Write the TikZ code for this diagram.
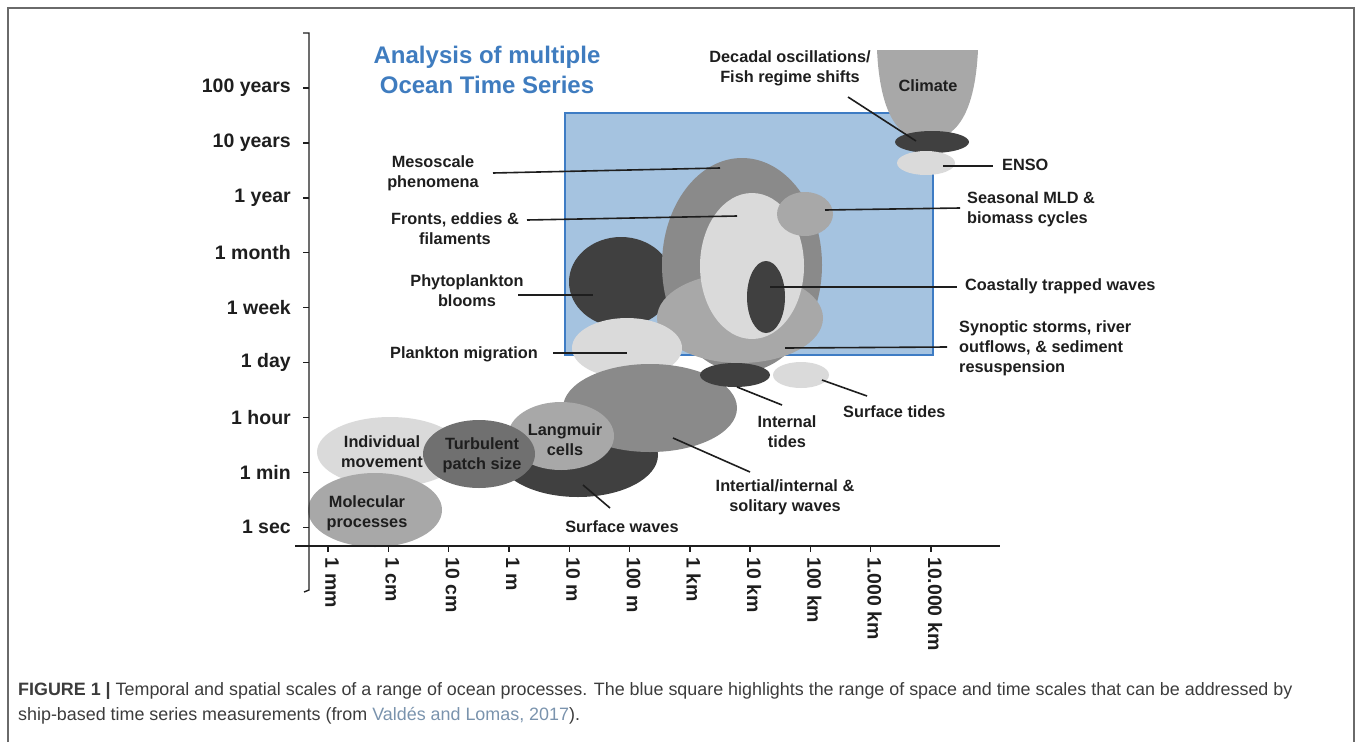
\documentclass[tikz,border=0pt]{standalone}
\usepackage{fontspec}
\setmainfont{Liberation Sans}
\usetikzlibrary{shapes.geometric}
\definecolor{cdark}{HTML}{404040}
\definecolor{cturb}{HTML}{707070}
\definecolor{cmed}{HTML}{8A8A8A}
\definecolor{cmid}{HTML}{A8A8A8}
\definecolor{clight}{HTML}{DADADA}
\definecolor{bfill}{HTML}{A5C3E0}
\definecolor{bline}{HTML}{3E7CC4}
\definecolor{ttl}{HTML}{3F7CBF}
\definecolor{txt}{HTML}{1E1E1E}
\definecolor{capt}{HTML}{3C3C3C}
\definecolor{capl}{HTML}{7A93AD}
\definecolor{frm}{HTML}{6A6A6A}
\tikzset{
  ell/.style={ellipse, inner sep=0pt, draw=none},
  lab/.style={font=\bfseries\fontsize{16.3}{20}\selectfont, text=txt, inner sep=0pt},
  ticklab/.style={font=\bfseries\fontsize{19.5}{21}\selectfont, text=txt, inner sep=0pt},
  conn/.style={draw=txt, line width=1.6pt},
  axis/.style={draw=txt, line width=1.4pt},
}
\begin{document}
\begin{tikzpicture}[x=1pt,y=-1pt]
\useasboundingbox (0,0) rectangle (1357,742);
% frame
\draw[frm, line width=1.4pt] (8,742) -- (8,8) -- (1354,8) -- (1354,742);
% title
\node[font=\bfseries\fontsize{24}{30}\selectfont, text=ttl, align=center] (title) at (487,70) {Analysis of multiple\\Ocean Time Series};
% blue box
\node[draw=bline, line width=2.8pt, fill=bfill, inner sep=0pt, minimum width=368pt, minimum height=242pt] (box) at (749,234) {};
% climate
\fill[cmid] (877,50) .. controls (880,112) and (897,140) .. (927,140) .. controls (957,140) and (975,112) .. (978,50) -- cycle;
\node[lab] (climate) at (928,86) {Climate};
\node[ell, fill=cdark, minimum width=74pt, minimum height=22pt] (e-dec) at (932,142) {};
\node[ell, fill=clight, minimum width=58pt, minimum height=24pt] (e-enso) at (926,163) {};
% mesoscale cluster
\node[ell, fill=cdark, minimum width=104pt, minimum height=90pt] (e-phyto) at (621,282) {};
\node[ell, fill=cmed, minimum width=160pt, minimum height=214pt] (e-meso) at (742,265) {};
\node[ell, fill=cmid, minimum width=166pt, minimum height=90pt] (e-syn) at (740,318) {};
\node[ell, fill=clight, minimum width=104pt, minimum height=146pt] (e-front) at (752,266) {};
\node[ell, fill=cdark, minimum width=38pt, minimum height=72pt] (e-coast) at (766,297) {};
\node[ell, fill=cmid, minimum width=56pt, minimum height=44pt] (e-seas) at (805,214) {};
\node[ell, fill=clight, minimum width=110pt, minimum height=60pt] (e-migr) at (627,348) {};
% small scale
\node[ell, fill=cdark, minimum width=160pt, minimum height=84pt] (e-swav) at (578,455) {};
\node[ell, fill=cmed, minimum width=174pt, minimum height=88pt] (e-inert) at (650,408) {};
\node[ell, fill=cdark, minimum width=70pt, minimum height=24pt] (e-itide) at (735,375) {};
\node[ell, fill=clight, minimum width=56pt, minimum height=26pt] (e-stide) at (801,375) {};
\node[ell, fill=cmid, minimum width=106pt, minimum height=68pt] (e-lang) at (561,436) {};
\node[ell, fill=clight, minimum width=146pt, minimum height=70pt] (e-indiv) at (390,452) {};
\node[ell, fill=cturb, minimum width=112pt, minimum height=68pt] (e-turb) at (479,454) {};
\node[ell, fill=cmid, minimum width=134pt, minimum height=74pt] (e-mol) at (375,510) {};
% axes
\coordinate (ytop) at (309,33);
\coordinate (ybot) at (309,590);
\coordinate (xl) at (295,546);
\coordinate (xr) at (1000,546);
\draw[axis] (303,33) -- (ytop) -- (ybot) -- (304,592);
\draw[axis] (xl) -- (xr);
\foreach \t [count=\i from 0] in {100 years,10 years,1 year,1 month,1 week,1 day,1 hour,1 min,1 sec} {
  \coordinate (yt\i) at (309,88+54.9*\i);
  \draw[axis] (yt\i) -- ++(-6,0);
  \node[ticklab, anchor=east] (ytl\i) at (291,88+54.9*\i) {\t};
}
\foreach \t [count=\i from 0] in {1 mm,1 cm,10 cm,1 m,10 m,100 m,1 km,10 km,100 km,{1.000 km},{10.000 km}} {
  \coordinate (xt\i) at (328+60.3*\i,546);
  \draw[axis] (xt\i) -- ++(0,6);
  \node[ticklab, rotate=-90, anchor=west] (xtl\i) at (332+60.3*\i,557) {\t};
}
% labels inside ellipses
\node[lab, align=center] (l-lang) at (565,440) {Langmuir\\cells};
\node[lab, align=center] (l-turb) at (482,455) {Turbulent\\patch size};
\node[lab, align=center] (l-indiv) at (382,452) {Individual\\movement};
\node[lab, align=center] (l-mol) at (367,513) {Molecular\\processes};
% outer labels and connectors
\node[lab, align=center] (l-meso) at (433,173) {Mesoscale\\phenomena};
\coordinate (a-meso) at (493,173); \coordinate (b-meso) at (720,168);
\draw[conn] (a-meso) -- (b-meso);
\node[lab, align=center] (l-front) at (455,229) {Fronts, eddies \&\\filaments};
\coordinate (a-front) at (527,220); \coordinate (b-front) at (737,216);
\draw[conn] (a-front) -- (b-front);
\node[lab, align=center] (l-phyto) at (467,291) {Phytoplankton\\blooms};
\coordinate (a-phyto) at (518,295); \coordinate (b-phyto) at (593,295);
\draw[conn] (a-phyto) -- (b-phyto);
\node[lab, anchor=east] (l-migr) at (538,354) {Plankton migration};
\coordinate (a-migr) at (553,353); \coordinate (b-migr) at (627,353);
\draw[conn] (a-migr) -- (b-migr);
\node[lab, align=center] (l-dec) at (790,68) {Decadal oscillations/\\Fish regime shifts};
\coordinate (a-dec) at (848,97); \coordinate (b-dec) at (916,141);
\draw[conn] (a-dec) -- (b-dec);
\node[lab, anchor=west] (l-enso) at (1002,165) {ENSO};
\coordinate (a-enso) at (943,166); \coordinate (b-enso) at (993,166);
\draw[conn] (a-enso) -- (b-enso);
\node[lab, anchor=west, align=left] (l-seas) at (967,209) {Seasonal MLD \&\\biomass cycles};
\coordinate (a-seas) at (825,210); \coordinate (b-seas) at (960,208);
\draw[conn] (a-seas) -- (b-seas);
\node[lab, anchor=west] (l-coast) at (965,286) {Coastally trapped waves};
\coordinate (a-coast) at (770,287); \coordinate (b-coast) at (957,287);
\draw[conn] (a-coast) -- (b-coast);
\node[lab, anchor=west, align=left] (l-syn) at (959,348) {Synoptic storms, river\\outflows, \& sediment\\resuspension};
\coordinate (a-syn) at (785,348); \coordinate (b-syn) at (947,347);
\draw[conn] (a-syn) -- (b-syn);
\node[lab, align=center] (l-itide) at (787,432) {Internal\\tides};
\coordinate (a-itide) at (737,387); \coordinate (b-itide) at (782,405);
\draw[conn] (a-itide) -- (b-itide);
\node[lab, anchor=west] (l-stide) at (843,412) {Surface tides};
\coordinate (a-stide) at (822,380); \coordinate (b-stide) at (867,396);
\draw[conn] (a-stide) -- (b-stide);
\node[lab, align=center] (l-inert) at (785,497) {Intertial/internal \&\\solitary waves};
\coordinate (a-inert) at (673,438); \coordinate (b-inert) at (750,472);
\draw[conn] (a-inert) -- (b-inert);
\node[lab] (l-swav) at (622,527) {Surface waves};
\coordinate (a-swav) at (583,485); \coordinate (b-swav) at (610,508);
\draw[conn] (a-swav) -- (b-swav);
% caption
\node[anchor=north west, align=left, inner sep=0pt, text=capt, font=\fontsize{17.9}{25}\selectfont] (caption) at (18,682)
{\textbf{FIGURE 1 |} Temporal and spatial scales of a range of ocean processes. The blue square highlights the range of space and time scales that can be addressed by\\ship-based time series measurements (from \textcolor{capl}{Valdés and Lomas, 2017}).};
\end{tikzpicture}
\end{document}
